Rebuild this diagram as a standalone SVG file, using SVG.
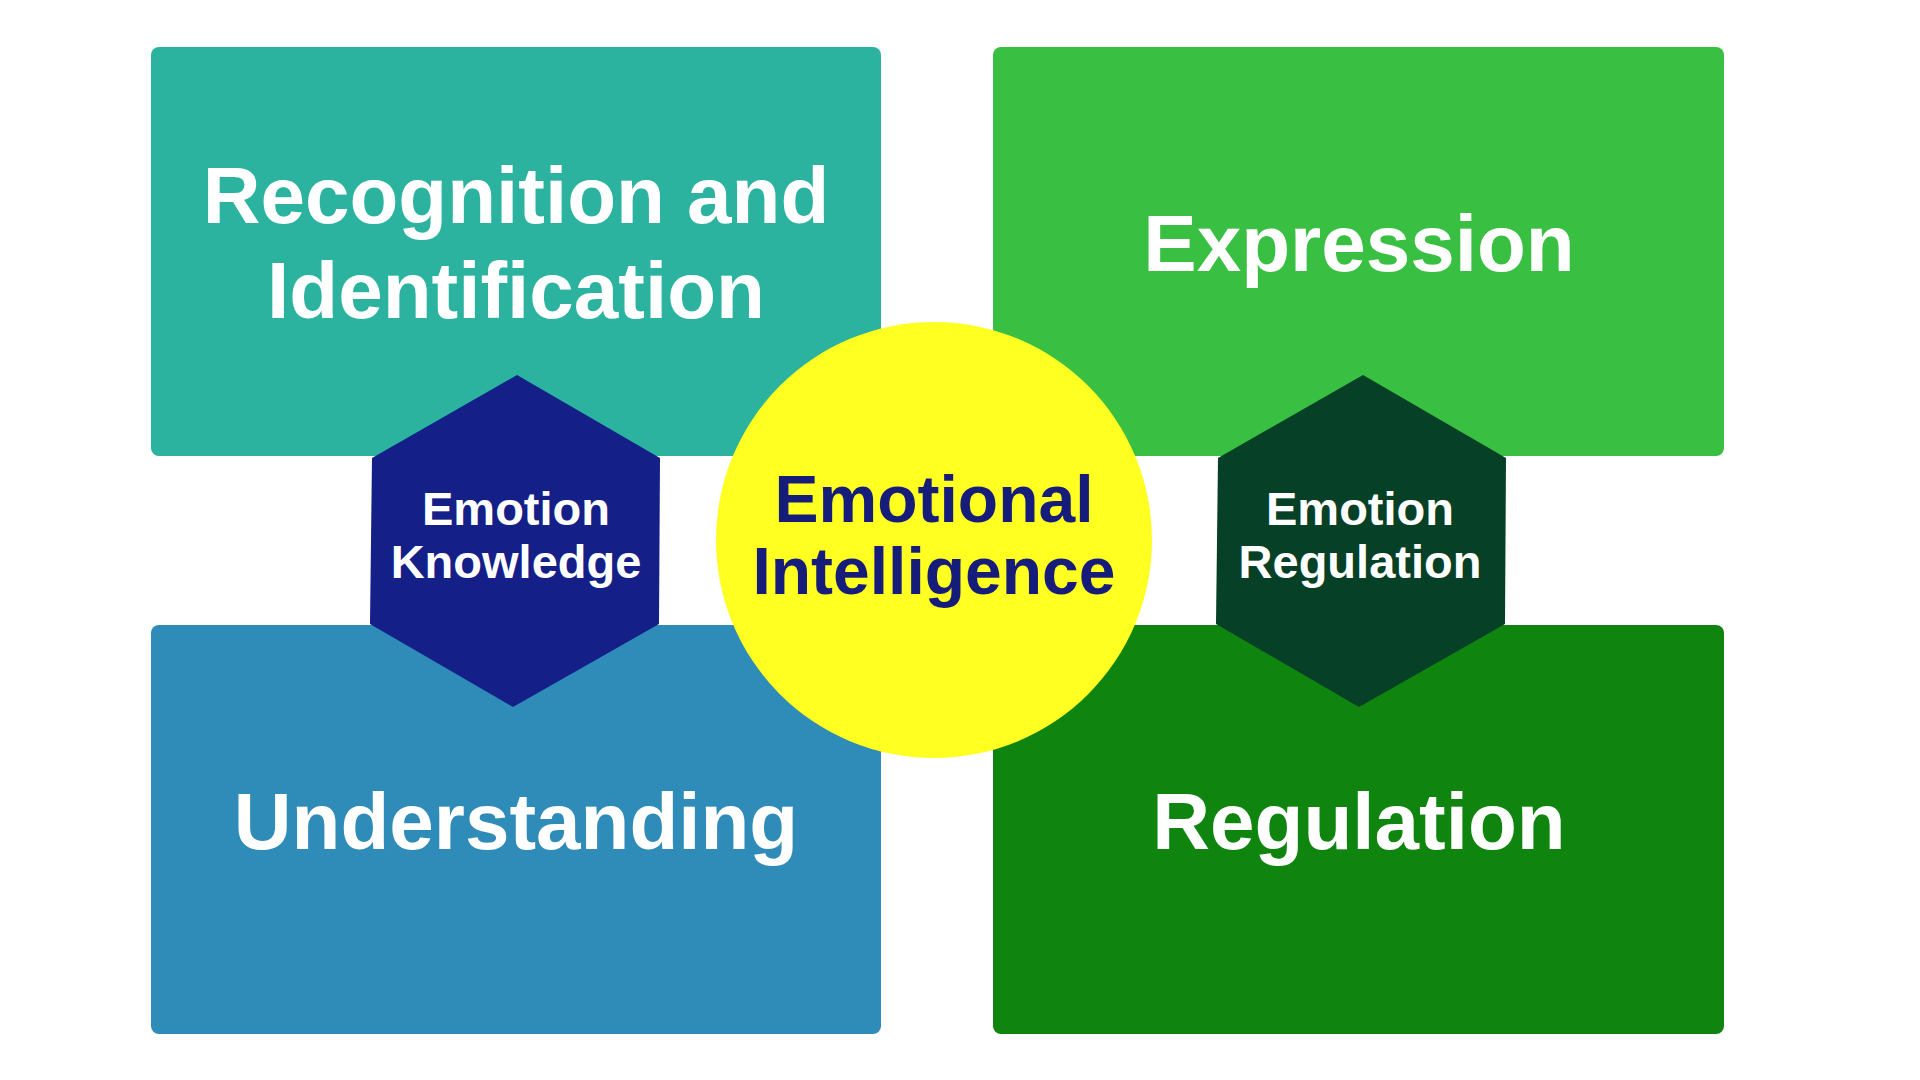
<svg xmlns="http://www.w3.org/2000/svg" width="1920" height="1080" viewBox="0 0 1920 1080">
<style>
.big{font-family:"Liberation Sans",Arial,sans-serif;font-weight:bold;font-size:80px;fill:#fff;text-anchor:middle}
.mid{font-family:"Liberation Sans",Arial,sans-serif;font-weight:bold;font-size:66px;fill:#161c7a;text-anchor:middle}
.sm{font-family:"Liberation Sans",Arial,sans-serif;font-weight:bold;font-size:47px;fill:#fff;text-anchor:middle}
</style>
<rect width="1920" height="1080" fill="#fff"/>
<g id="recognition"><rect x="151" y="47" width="730" height="409" rx="8" fill="#2bb3a0"/><text class="big" x="516" y="223">Recognition and</text><text class="big" x="516" y="318">Identification</text></g>
<g id="expression"><rect x="993" y="47" width="731" height="409" rx="8" fill="#39bf42"/><text class="big" x="1359" y="271">Expression</text></g>
<g id="understanding"><rect x="151" y="625" width="730" height="409" rx="8" fill="#2f8bb7"/><text class="big" x="516" y="849">Understanding</text></g>
<g id="regulation"><rect x="993" y="625" width="731" height="409" rx="8" fill="#0f840f"/><text class="big" x="1359" y="849">Regulation</text></g>
<g id="emotional-intelligence"><circle cx="934" cy="540" r="218" fill="#ffff22"/><text class="mid" x="934" y="522">Emotional</text><text class="mid" x="934" y="594">Intelligence</text></g>
<g id="emotion-knowledge"><polygon points="517,375 660,458 659,624 513,707 370,624 372,458" fill="#141f88"/><text class="sm" x="516" y="525">Emotion</text><text class="sm" x="516" y="578">Knowledge</text></g>
<g id="emotion-regulation"><polygon points="1363,375 1506,458 1505,624 1359,707 1216,624 1218,458" fill="#064026"/><text class="sm" x="1360" y="525">Emotion</text><text class="sm" x="1360" y="578">Regulation</text></g>
<g id="connectors"/>
</svg>
